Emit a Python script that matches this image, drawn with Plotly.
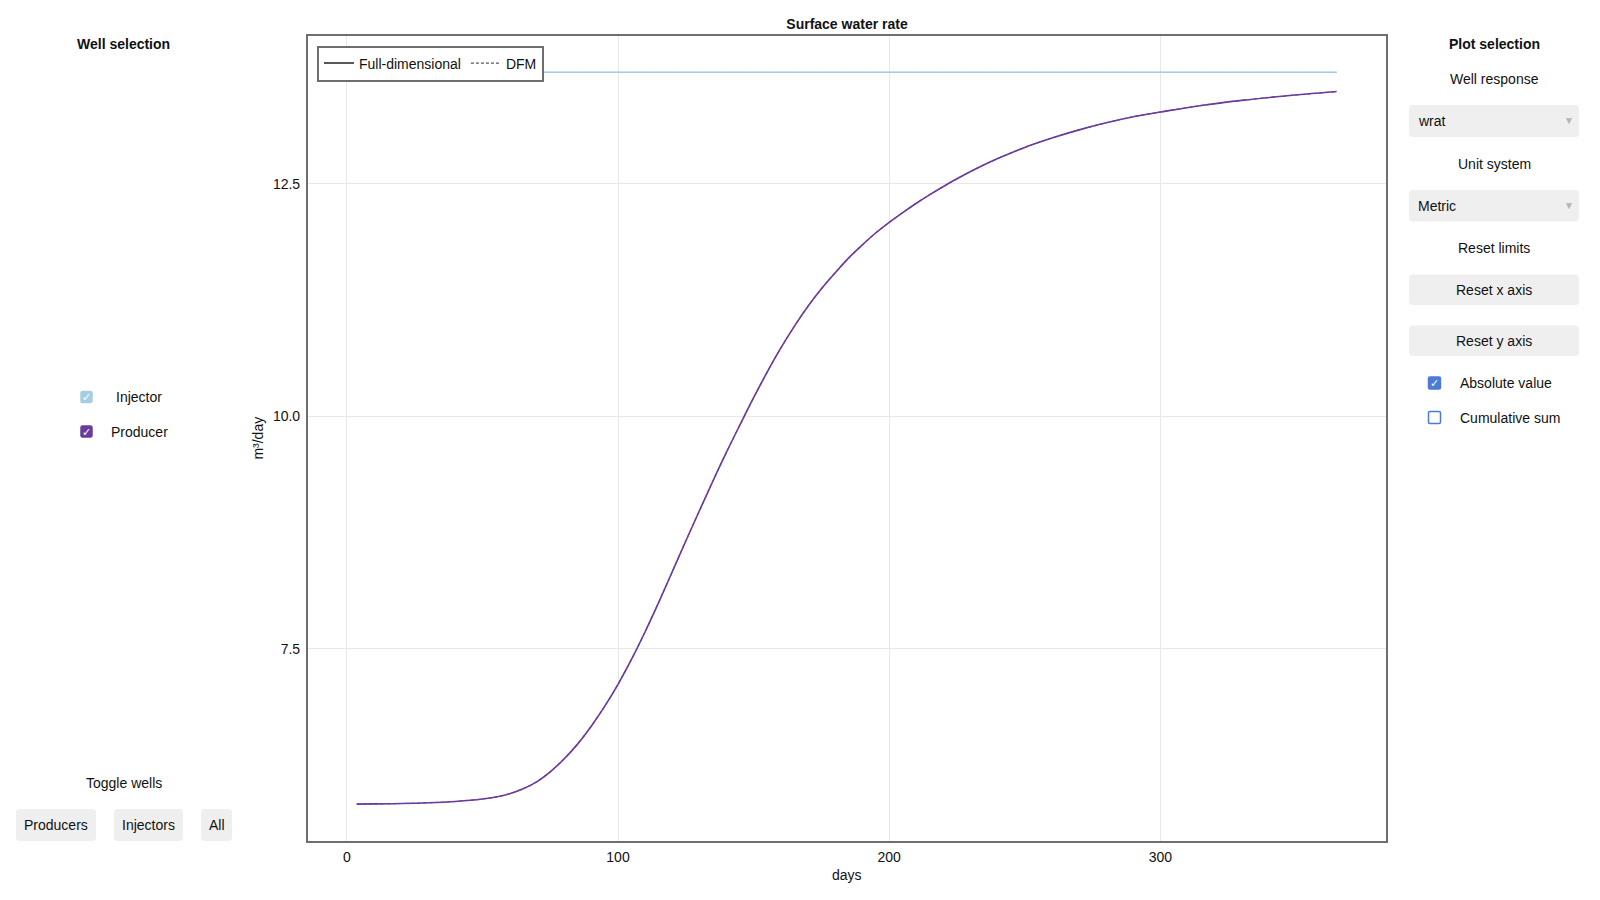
import plotly.graph_objects as go

# the page adds an 8px body margin, so the figure is drawn 8px smaller
OFF = 8
W, H = 1600 - 2 * OFF, 900 - 2 * OFF

# producer surface water rate (m3/day) vs time (days)
days = [3.65, 10, 20, 30, 40, 50, 55, 60, 65, 70, 75, 80, 85, 90, 95, 100, 105, 110,
        115, 120, 125, 130, 135, 140, 145, 150, 155, 160, 165, 170, 175, 180, 185, 190,
        195, 200, 205, 210, 215, 220, 225, 232, 240, 250, 260, 270, 280, 290, 300, 315,
        330, 345, 365]
producer_rate = [5.833, 5.835, 5.839, 5.847, 5.861, 5.887, 5.909, 5.944, 5.997, 6.072,
                 6.18, 6.315, 6.475, 6.665, 6.88, 7.12, 7.39, 7.685, 8.0, 8.33, 8.66,
                 8.985, 9.305, 9.615, 9.91, 10.2, 10.475, 10.732, 10.967, 11.18, 11.37,
                 11.54, 11.70, 11.84, 11.97, 12.085, 12.19, 12.29, 12.383, 12.47, 12.553,
                 12.66, 12.77, 12.89, 12.99, 13.078, 13.154, 13.22, 13.27, 13.34, 13.395,
                 13.44, 13.49]

injector_days = [3.65, 365.0]
injector_rate = [13.697, 13.697]

wells = ["Injector", "Producer"]
well_colors = ["#a6cee3", "#6a3d9a"]
well_x = [injector_days, days]
well_y = [injector_rate, producer_rate]

xtick_vals = [0, 100, 200, 300]
ytick_vals = [7.5, 10.0, 12.5]

FONT = "Liberation Sans, Arial, sans-serif"
BTN = "#efefef"
BLUE = "#4b7bd4"


def px(x):
    return (x - OFF) / W


def py(y):
    return 1 - (y - OFF) / H


def padded(vals):
    lo, hi = min(vals), max(vals)
    pad = 0.05 * (hi - lo)
    return [lo - pad, hi + pad]


fig = go.Figure()

for name, color, x, y in zip(wells, well_colors, well_x, well_y):
    fig.add_trace(go.Scatter(x=x, y=y, mode="lines", name=name, showlegend=False,
                             line=dict(color=color, width=1.6, shape="spline")))
    fig.add_trace(go.Scatter(x=x, y=y, mode="lines", name=name + " DFM", showlegend=False,
                             line=dict(color=color, width=1.1, dash="4px,2px", shape="spline")))

# legend entries for the two model types
fig.add_trace(go.Scatter(x=[None], y=[None], mode="lines", name="Full-dimensional",
                         line=dict(color="#222222", width=1.5)))
fig.add_trace(go.Scatter(x=[None], y=[None], mode="lines", name="DFM",
                         line=dict(color="#555555", width=1.2, dash="3px,2px")))

shapes = []
annotations = []


def label(x, y, text, size=14, bold=False, anchor="center", color="#111111"):
    if bold:
        text = "<b>" + text + "</b>"
    annotations.append(dict(x=px(x), y=py(y), xref="paper", yref="paper", text=text,
                            showarrow=False, xanchor=anchor, yanchor="middle",
                            font=dict(family=FONT, size=size, color=color)))


def rounded(x0, x1, y0, y1, r=4):
    a, b = px(x0), px(x1)
    top, bot = py(y0), py(y1)
    rx, ry = r / W, r / H
    return (f"M {a + rx},{top} L {b - rx},{top} Q {b},{top} {b},{top - ry} "
            f"L {b},{bot + ry} Q {b},{bot} {b - rx},{bot} L {a + rx},{bot} "
            f"Q {a},{bot} {a},{bot + ry} L {a},{top - ry} Q {a},{top} {a + rx},{top} Z")


def button(x0, x1, y0, y1, text=None, left_text=None):
    shapes.append(dict(type="path", xref="paper", yref="paper", path=rounded(x0, x1, y0, y1),
                       fillcolor=BTN, line=dict(width=0), layer="below"))
    if text:
        label((x0 + x1) / 2, (y0 + y1) / 2, text)
    if left_text:
        label(x0 + 7, (y0 + y1) / 2, left_text, anchor="left")
        label(x1 - 10, (y0 + y1) / 2, "▼", size=10, color="#b5b5b5")


def checkbox(x, y, fill, checked=True, size=12):
    h = size / 2
    shapes.append(dict(type="path", xref="paper", yref="paper",
                       path=rounded(x - h, x + h, y - h, y + h, r=1.5),
                       fillcolor=fill if checked else "white",
                       line=dict(color=fill, width=1.5)))
    if checked:
        label(x, y, "✓", size=11, color="white")


# left panel: well selection
label(123.5, 44, "Well selection", bold=True)
for i, (name, color) in enumerate(zip(wells, well_colors)):
    yy = 397 + i * 34.5
    checkbox(86.5, yy, color, size=11)
    label(139, yy, name)
label(123.5, 783, "Toggle wells")
button(16, 96, 809, 841, "Producers")
button(114, 183, 809, 841, "Injectors")
button(201, 232, 809, 841, "All")

# right panel: plot selection
label(1494, 44, "Plot selection", bold=True)
label(1494, 79, "Well response")
button(1409, 1579, 105, 137, left_text="wrat")
label(1494, 163.5, "Unit system")
button(1409, 1579, 190, 221.5, left_text="Metric")
label(1494, 248, "Reset limits")
button(1409, 1579, 274.5, 305, "Reset x axis")
button(1409, 1579, 325.5, 356, "Reset y axis")
checkbox(1434.5, 383, BLUE, True)
label(1458, 383, "Absolute value", anchor="left")
checkbox(1434.5, 417.5, BLUE, False)
label(1458, 417.5, "Cumulative sum", anchor="left")

fig.update_layout(
    width=W, height=H,
    margin=dict(l=0, r=0, t=0, b=0),
    paper_bgcolor="white", plot_bgcolor="white",
    font=dict(family=FONT, size=14, color="#111111"),
    title=dict(text="<b>Surface water rate</b>", x=px(847), y=py(24), xanchor="center",
               yanchor="middle", xref="paper", yref="paper", font=dict(size=14)),
    showlegend=True,
    legend=dict(orientation="h", x=px(317), y=py(45.5), xanchor="left", yanchor="top",
                bordercolor="#6e6e6e", borderwidth=2, bgcolor="white",
                font=dict(size=14), itemwidth=30),
    shapes=shapes,
    annotations=annotations,
)

fig.update_xaxes(
    domain=[px(307.7), px(1385.7)], range=padded(days + injector_days),
    tickvals=xtick_vals, showgrid=True, gridcolor="#e8e8e8", gridwidth=1,
    zeroline=False, showline=True, mirror=True, linecolor="#6e6e6e", linewidth=1.5,
    ticks="outside", ticklen=3, tickcolor="rgba(0,0,0,0)",
    tickfont=dict(size=14), title=dict(text="days", standoff=6, font=dict(size=14)),
    automargin=False,
)
fig.update_yaxes(
    domain=[py(840.7), py(35.7)], range=padded(producer_rate + injector_rate),
    tickvals=ytick_vals, tickformat=".1f", showgrid=True, gridcolor="#e8e8e8", gridwidth=1,
    zeroline=False, showline=True, mirror=True, linecolor="#6e6e6e", linewidth=1.5,
    ticks="outside", ticklen=3, tickcolor="rgba(0,0,0,0)",
    tickfont=dict(size=14), title=dict(text="m³/day", standoff=6, font=dict(size=14)),
    automargin=False,
)

fig.write_html("out.html")
